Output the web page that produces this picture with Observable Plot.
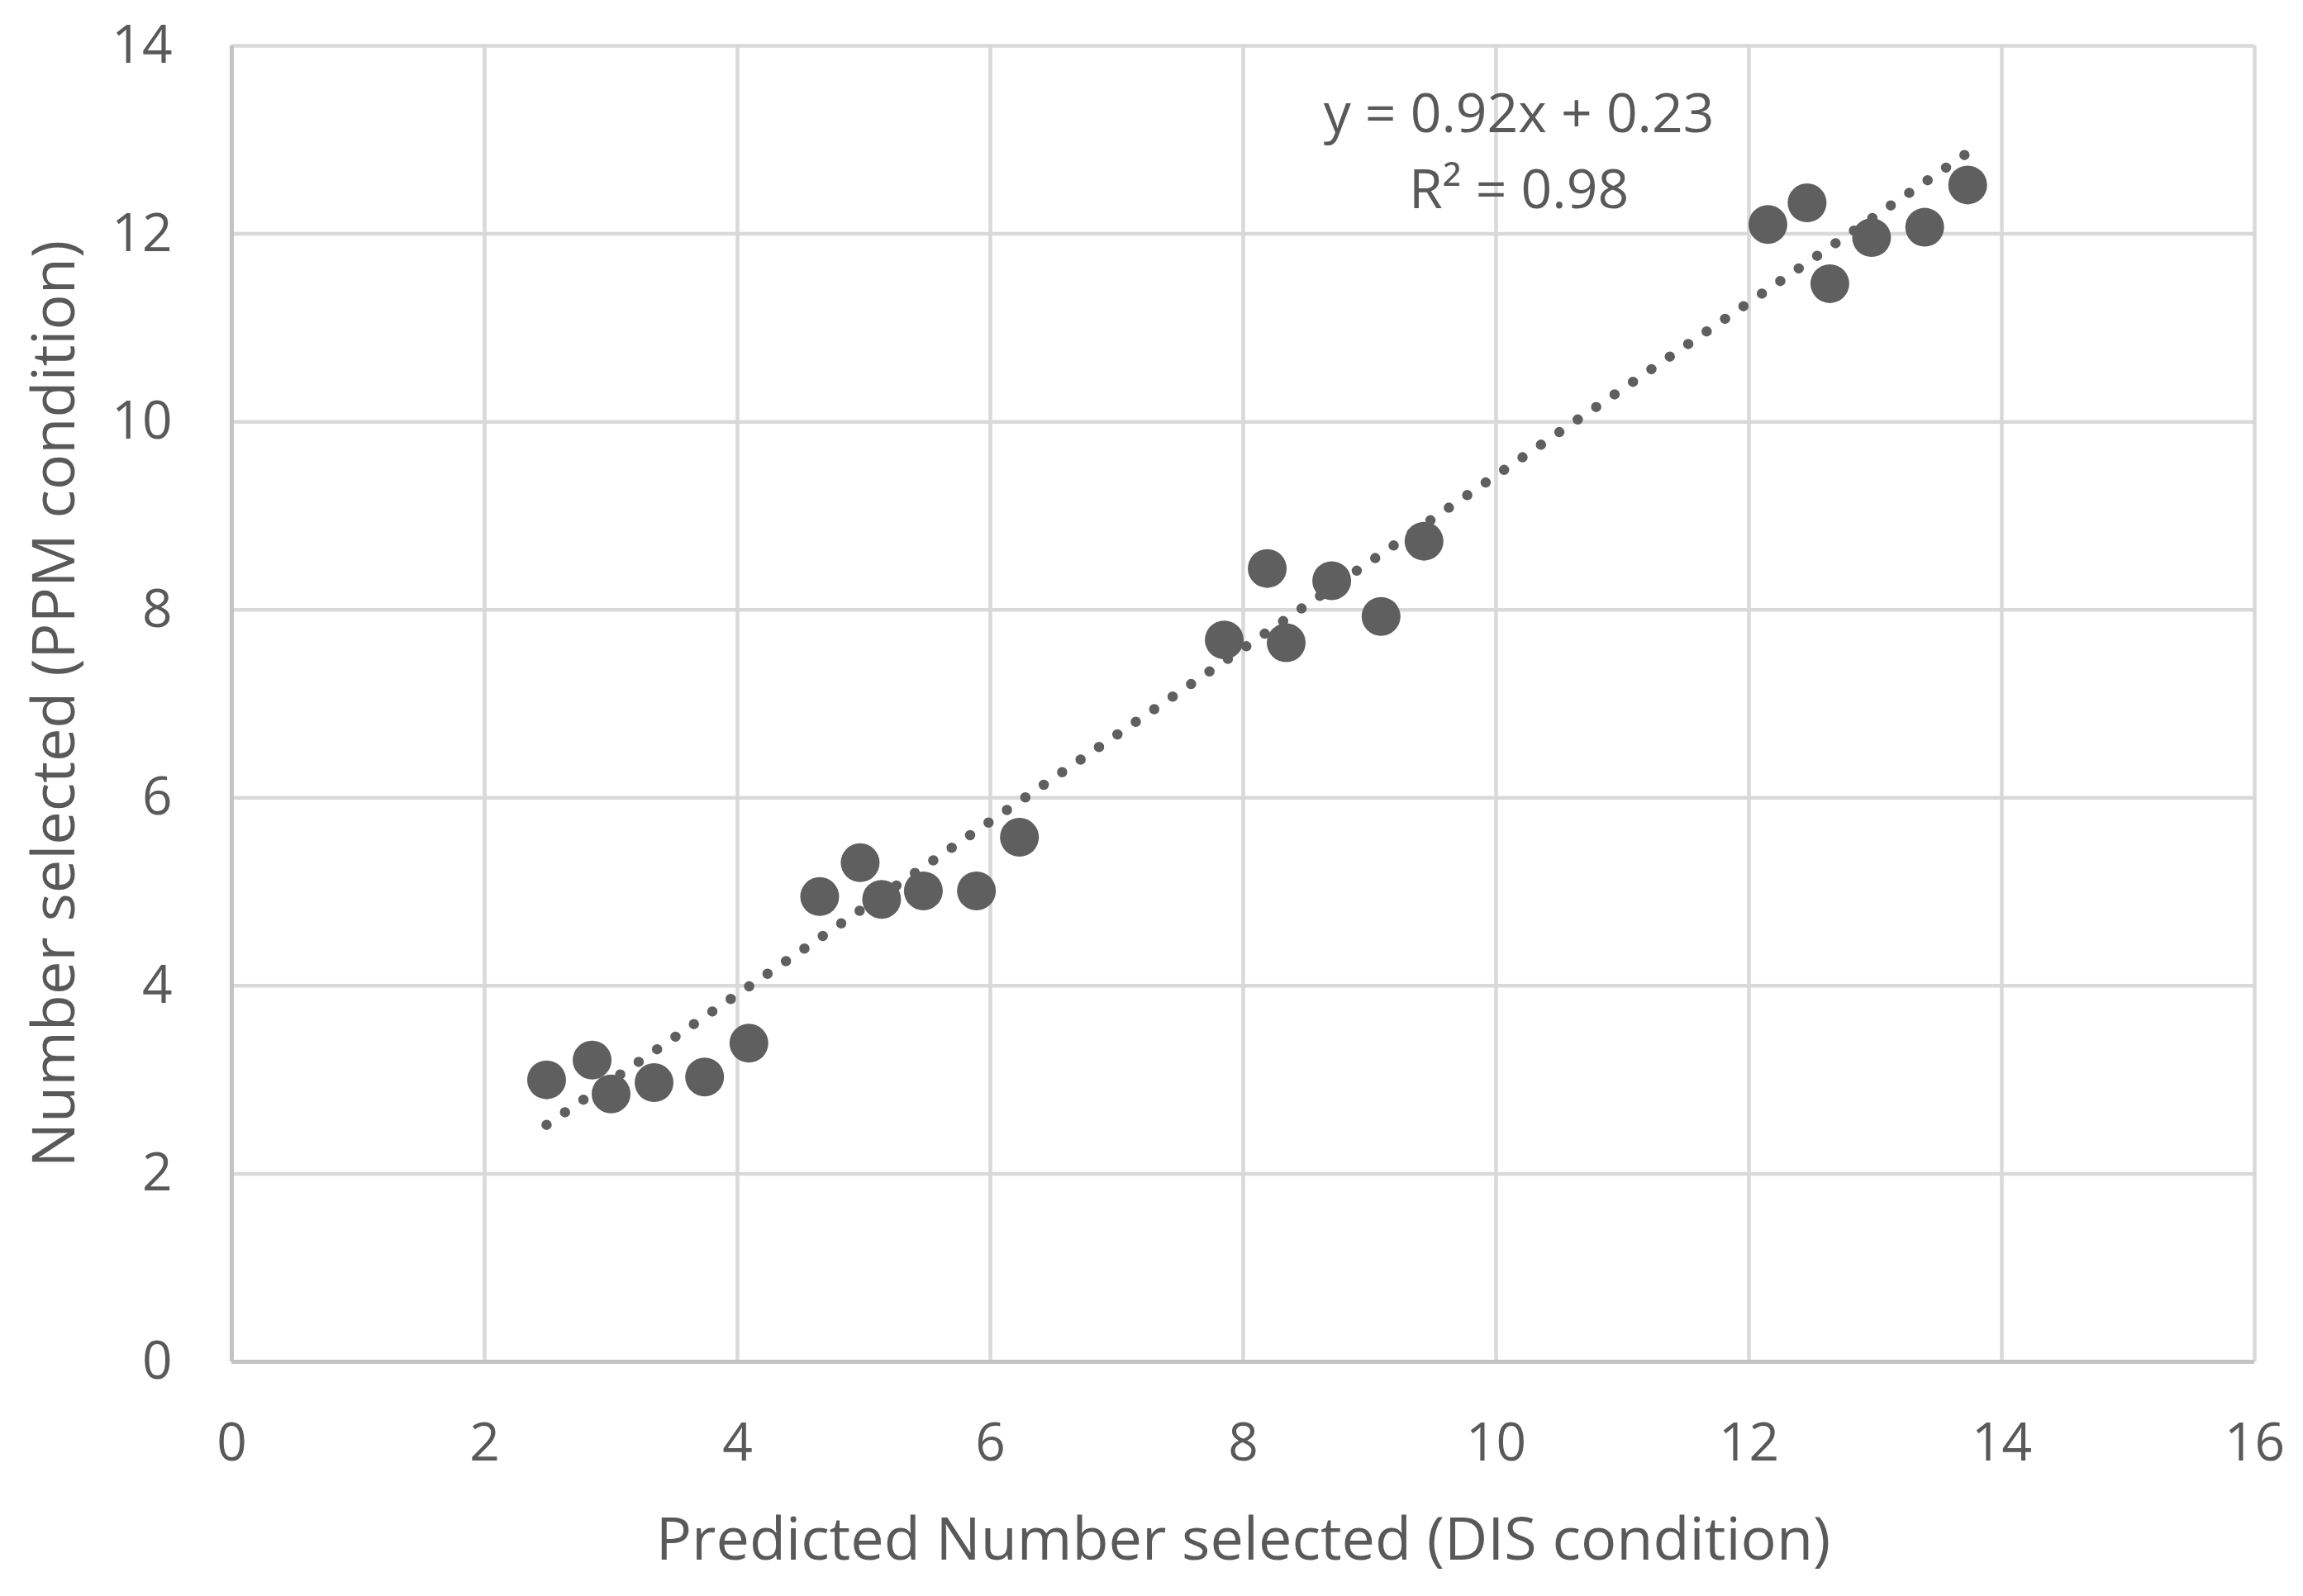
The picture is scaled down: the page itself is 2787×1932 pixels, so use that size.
<!DOCTYPE html>
<html>
<head>
<meta charset="utf-8">
<script src="https://cdn.jsdelivr.net/npm/d3@7"></script>
<script src="https://cdn.jsdelivr.net/npm/@observablehq/plot@0.6"></script>
<style>
  html, body { margin: 0; padding: 0; background: #fff; }
  #chart svg { display: block; }
</style>
</head>
<body>
<div id="chart"></div>
<script>
// Predicted number selected (DIS condition)
const predictedDIS = [2.49, 2.85, 3.00, 3.34, 3.74, 4.09, 4.65, 4.97, 5.14, 5.47, 5.89, 6.23,
                      7.85, 8.19, 8.34, 8.70, 9.09, 9.43, 12.15, 12.46, 12.64, 12.97, 13.39, 13.73];
// Number selected (PPM condition)
const selectedPPM  = [3.00, 3.21, 2.85, 2.97, 3.03, 3.39, 4.95, 5.31, 4.92, 5.01, 5.01, 5.58,
                      7.68, 8.44, 7.65, 8.31, 7.93, 8.73, 12.10, 12.33, 11.47, 11.96, 12.07, 12.52];
const xTicks = [0, 2, 4, 6, 8, 10, 12, 14, 16];
const yTicks = [0, 2, 4, 6, 8, 10, 12, 14];
const trendSlope = 0.92;
const trendIntercept = 0.23;
const rSquared = 0.98;
const xTitle = "Predicted Number selected (DIS condition)";
const yTitle = "Number selected (PPM condition)";

const points = predictedDIS.map((x, i) => ({x, y: selectedPPM[i]}));
const xExtent = d3.extent(predictedDIS);
const trend = xExtent.map(x => ({x, y: trendSlope * x + trendIntercept}));
const eqLabel = [`y = ${trendSlope}x + ${trendIntercept}`, `R² = ${rSquared}`].join("\n");
const labelPos = [{x: 10.18, y: 13.66}];

const textColor = "#595959";
const font = "'Open Sans', sans-serif";

const chart = Plot.plot({
  width: 2787,
  height: 1932,
  marginLeft: 280,
  marginRight: 59,
  marginTop: 55,
  marginBottom: 284,
  style: {fontFamily: font, fontSize: "64px", color: textColor, background: "#fff"},
  x: {domain: [0, 16], ticks: xTicks},
  y: {domain: [0, 14], ticks: yTicks},
  marks: [
    Plot.gridX(xTicks, {stroke: "#d9d9d9", strokeOpacity: 1, strokeWidth: 4.5}),
    Plot.gridY(yTicks, {stroke: "#d9d9d9", strokeOpacity: 1, strokeWidth: 4.5}),
    Plot.ruleX([0], {stroke: "#c4c4c4", strokeWidth: 5}),
    Plot.ruleY([0], {stroke: "#c4c4c4", strokeWidth: 5}),
    Plot.axisX(xTicks, {tickSize: 0, tickPadding: 74, label: null, tickFormat: "d",
      fill: textColor, fontSize: 64}),
    Plot.axisY(yTicks, {tickSize: 0, tickPadding: 72, label: null, tickFormat: "d",
      fill: textColor, fontSize: 64}),
    Plot.line(trend, {x: "x", y: "y", stroke: "#5f5f5f", strokeWidth: 12.5,
      strokeDasharray: "0 27", strokeLinecap: "round"}),
    Plot.dot(points, {x: "x", y: "y", r: 23.5, fill: "#5f5f5f", stroke: "none"}),
    Plot.text(labelPos, {x: "x", y: "y", text: () => eqLabel, fontSize: 66,
      lineHeight: 1.4, lineAnchor: "top", textAnchor: "middle", fill: textColor}),
    Plot.text([xTitle], {frameAnchor: "bottom", dy: 216, lineAnchor: "middle",
      textAnchor: "middle", fontSize: 72, fill: textColor}),
    Plot.text([yTitle], {frameAnchor: "left", dx: -214, rotate: -90, lineAnchor: "middle",
      textAnchor: "middle", fontSize: 72, fill: textColor})
  ]
});
document.getElementById("chart").appendChild(chart);
</script>
</body>
</html>
